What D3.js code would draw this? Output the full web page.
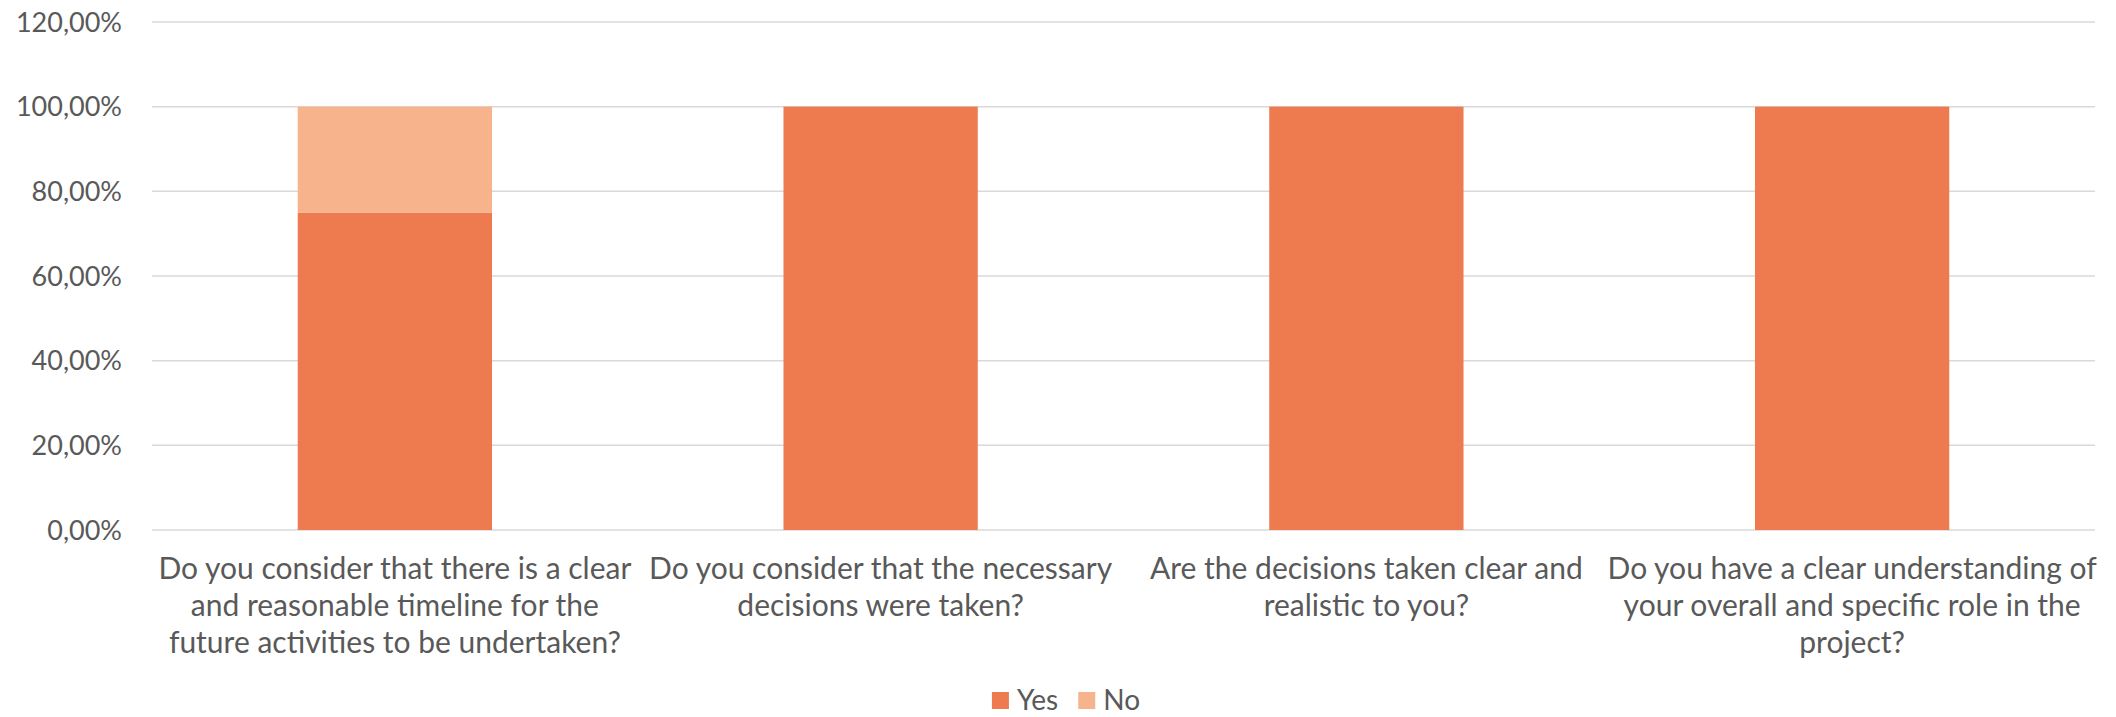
<!DOCTYPE html>
<html>
<head>
<meta charset="utf-8">
<script src="https://cdn.jsdelivr.net/npm/d3@7"></script>
<style>
  html, body { margin: 0; padding: 0; background: #fff; }
  svg text { font-family: Lato, "Open Sans", sans-serif; fill: #595959; }
</style>
</head>
<body>
<div id="chart"></div>
<script>
// data
const categories = [
  "Do you consider that there is a clear and reasonable timeline for the future activities to be undertaken?",
  "Do you consider that the necessary decisions were taken?",
  "Are the decisions taken clear and realistic to you?",
  "Do you have a clear understanding of your overall and specific role in the project?"
];
const labelLines = [
  ["Do you consider that there is a clear", "and reasonable timeline for the", "future activities to be undertaken?"],
  ["Do you consider that the necessary", "decisions were taken?"],
  ["Are the decisions taken clear and", "realistic to you?"],
  ["Do you have a clear understanding of", "your overall and specific role in the", "project?"]
];
const seriesNames = ["Yes", "No"];
const yesValues = [0.75, 1, 1, 1];
const noValues = [0.25, 0, 0, 0];
const yTicks = [0, 0.2, 0.4, 0.6, 0.8, 1.0, 1.2];

const colors = { Yes: "#ee7a50", No: "#f7b38c" };

const width = 2116, height = 717;
const margin = { top: 22, right: 21, bottom: 187, left: 152 };

const svg = d3.select("#chart").append("svg")
  .attr("width", width)
  .attr("height", height);

const xScale = d3.scaleBand()
  .domain(categories)
  .range([margin.left, width - margin.right])
  .paddingInner(0.6)
  .paddingOuter(0.3);

const yScale = d3.scaleLinear()
  .domain([0, 1.2])
  .range([height - margin.bottom, margin.top]);

const fmt = v => d3.format(".2f")(v * 100).replace(".", ",") + "%";

// gridlines + y labels
const yAxisG = svg.append("g").attr("class", "yAxisG");
yAxisG.selectAll("line")
  .data(yTicks)
  .join("line")
  .attr("x1", margin.left)
  .attr("x2", width - margin.right)
  .attr("y1", d => yScale(d))
  .attr("y2", d => yScale(d))
  .attr("stroke", "#d9d9d9")
  .attr("stroke-width", 1.5);

yAxisG.selectAll("text")
  .data(yTicks)
  .join("text")
  .attr("x", margin.left - 30)
  .attr("y", d => yScale(d))
  .attr("dy", "0.36em")
  .attr("text-anchor", "end")
  .style("font-size", "27px")
  .text(fmt);

// stacked bars
const table = categories.map((c, i) => ({ category: c, Yes: yesValues[i], No: noValues[i] }));
const stacked = d3.stack().keys(seriesNames)(table);

svg.append("g").attr("class", "barsG")
  .selectAll("g")
  .data(stacked)
  .join("g")
  .attr("fill", d => colors[d.key])
  .selectAll("rect")
  .data(d => d)
  .join("rect")
  .attr("x", d => xScale(d.data.category))
  .attr("width", xScale.bandwidth())
  .attr("y", d => yScale(d[1]))
  .attr("height", d => yScale(d[0]) - yScale(d[1]));

// category labels
const xLabels = svg.append("g").attr("class", "xAxisG")
  .selectAll("text")
  .data(categories)
  .join("text")
  .attr("text-anchor", "middle")
  .style("font-size", "30px")
  .attr("transform", d => "translate(" + (xScale(d) + xScale.bandwidth() / 2) + "," + (yScale(0) + 49) + ")");

xLabels.selectAll("tspan")
  .data((d, i) => labelLines[i])
  .join("tspan")
  .attr("x", 0)
  .attr("y", (d, i) => i * 37)
  .text(d => d);

// legend
const legend = svg.append("g").attr("class", "legendG");
let lx = 0;
seriesNames.forEach(name => {
  const item = legend.append("g").attr("transform", "translate(" + lx + ",0)");
  item.append("rect")
    .attr("x", 0).attr("y", -18)
    .attr("width", 17).attr("height", 17)
    .attr("fill", colors[name]);
  const t = item.append("text")
    .attr("x", 25).attr("y", 0)
    .style("font-size", "28px")
    .text(name);
  lx += 25 + t.node().getComputedTextLength() + 20;
});
const legendW = lx - 20;
legend.attr("transform", "translate(" + (1066 - legendW / 2) + ",710)");
</script>
</body>
</html>
